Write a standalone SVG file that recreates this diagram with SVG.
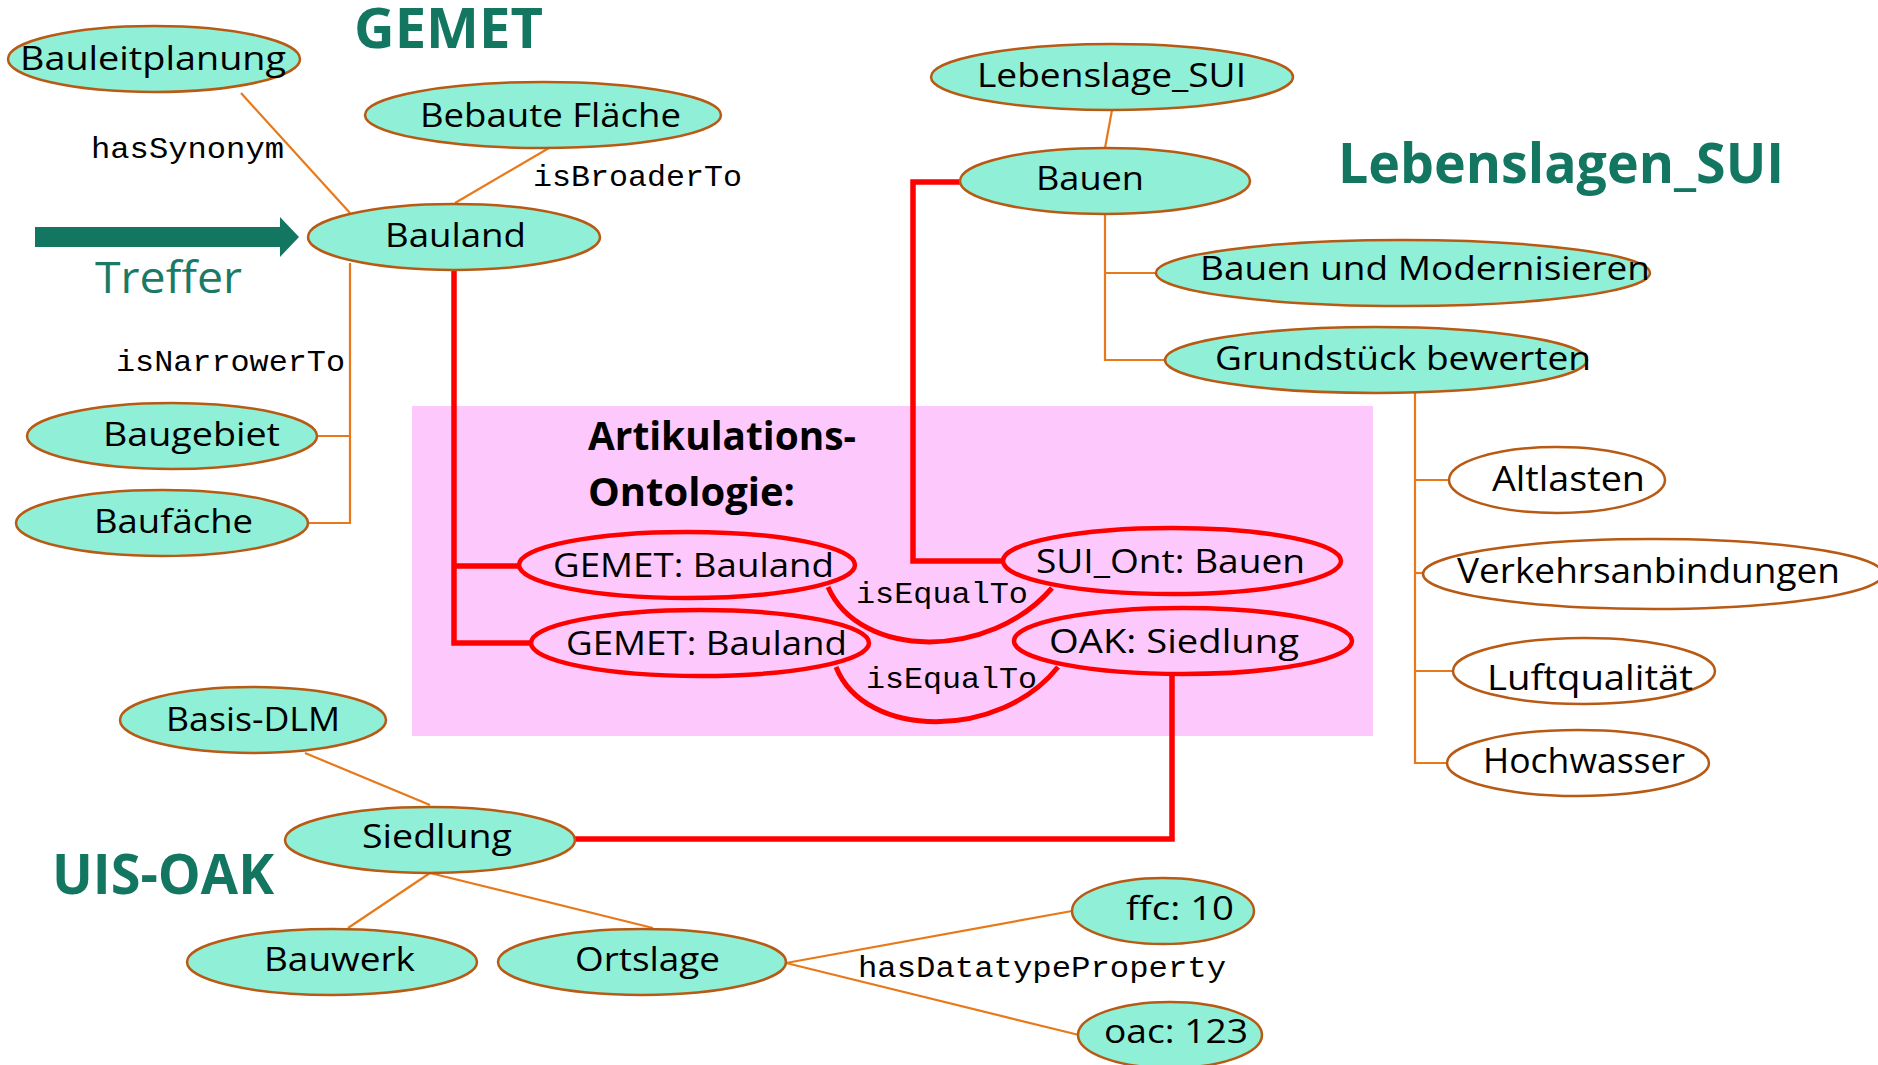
<svg xmlns="http://www.w3.org/2000/svg" width="1878" height="1065" viewBox="0 0 1878 1065">
<style>
.bg{fill:#ffffff}
.pink{fill:#FDC9FC}
.node{fill:#8FEFD7;stroke:#B85A14;stroke-width:2.5}
.wnode{fill:#ffffff;stroke:#B85A14;stroke-width:2.5}
.rnode{fill:none;stroke:#FF0000;stroke-width:4.5}
.t{font-family:"Open Sans","Noto Sans",sans-serif;font-size:33px;fill:#000}
.tw{font-family:"Open Sans","Noto Sans",sans-serif;font-size:34px;fill:#000}
.title{font-family:"Open Sans","Noto Sans",sans-serif;font-weight:bold;font-size:56px;fill:#137661}
.art{font-family:"Open Sans","Noto Sans",sans-serif;font-weight:bold;font-size:39px;fill:#000}
.mono{font-family:"Liberation Mono","Courier New",monospace;font-size:29px;fill:#000}
.oc{fill:none;stroke:#E8791A;stroke-width:2.2}
.rc{fill:none;stroke:#FF0000;stroke-width:5.5}
.rcurve{fill:none;stroke:#FF0000;stroke-width:5}
</style>
<rect class="bg" x="0" y="0" width="1878" height="1065"/>
<rect class="pink" x="412" y="406" width="961" height="330"/>

<g id="connectors">
  <line class="oc" x1="241" y1="93" x2="350" y2="213"/>
  <line class="oc" x1="549" y1="148" x2="455" y2="203"/>
  <polyline class="oc" points="350,263 350,523 307,523"/>
  <line class="oc" x1="350" y1="436" x2="317" y2="436"/>
  <line class="oc" x1="1112" y1="110" x2="1105" y2="148"/>
  <polyline class="oc" points="1105,203 1105,360 1165,360"/>
  <line class="oc" x1="1105" y1="273" x2="1157" y2="273"/>
  <polyline class="oc" points="1415,393 1415,763 1447,763"/>
  <line class="oc" x1="1415" y1="480" x2="1449" y2="480"/>
  <line class="oc" x1="1415" y1="573" x2="1423" y2="573"/>
  <line class="oc" x1="1415" y1="671" x2="1453" y2="671"/>
  <line class="oc" x1="305" y1="753" x2="430" y2="805"/>
  <line class="oc" x1="430" y1="873" x2="348" y2="928"/>
  <line class="oc" x1="430" y1="873" x2="653" y2="928"/>
  <line class="oc" x1="786" y1="963" x2="1072" y2="911"/>
  <line class="oc" x1="786" y1="963" x2="1079" y2="1035"/>
  <polyline class="rc" points="454,268 454,643 531,643"/>
  <line class="rc" x1="454" y1="566" x2="519" y2="566"/>
  <polyline class="rc" points="960,182 913,182 913,561 1003,561"/>
  <polyline class="rc" points="1172,675 1172,839 575,839"/>
  <path class="rcurve" d="M828 587 C860 660 990 660 1052 588"/>
  <path class="rcurve" d="M836 667 C865 740 1000 740 1058 667"/>
  <text class="mono" x="91" y="158" textLength="193" lengthAdjust="spacingAndGlyphs">hasSynonym</text>
  <text class="mono" x="533" y="186" textLength="209" lengthAdjust="spacingAndGlyphs">isBroaderTo</text>
  <text class="mono" x="116" y="371" textLength="229" lengthAdjust="spacingAndGlyphs">isNarrowerTo</text>
  <text class="mono" x="856" y="603" textLength="172" lengthAdjust="spacingAndGlyphs">isEqualTo</text>
  <text class="mono" x="866" y="688" textLength="171" lengthAdjust="spacingAndGlyphs">isEqualTo</text>
  <text class="mono" x="858" y="977" textLength="368" lengthAdjust="spacingAndGlyphs">hasDatatypeProperty</text>
</g>

<g id="titles">
  <text class="title" x="354" y="48" textLength="189" lengthAdjust="spacingAndGlyphs">GEMET</text>
  <text class="title" x="1338" y="183" textLength="446" lengthAdjust="spacingAndGlyphs">Lebenslagen_SUI</text>
  <text class="title" x="52" y="894" textLength="222" lengthAdjust="spacingAndGlyphs">UIS-OAK</text>
</g>

<g id="treffer">
  <polygon fill="#137661" points="35,227 280,227 280,217 299,237 280,257 280,247 35,247"/>
  <text x="95" y="293" textLength="147" lengthAdjust="spacingAndGlyphs" style="font-family:'Open Sans','Noto Sans',sans-serif;font-size:44px;fill:#1A7A64">Treffer</text>
</g>

<g id="artikulations-label">
  <text class="art" x="588" y="450" textLength="268" lengthAdjust="spacingAndGlyphs">Artikulations-</text>
  <text class="art" x="588" y="506" textLength="207" lengthAdjust="spacingAndGlyphs">Ontologie:</text>
</g>

<g id="n-bauleitplanung"><ellipse class="node" cx="154" cy="59" rx="146" ry="33"/><text class="t" x="20" y="70" textLength="266" lengthAdjust="spacingAndGlyphs">Bauleitplanung</text></g>
<g id="n-bebaute"><ellipse class="node" cx="543" cy="115" rx="178" ry="33"/><text class="t" x="420" y="127" textLength="261" lengthAdjust="spacingAndGlyphs">Bebaute Fläche</text></g>
<g id="n-bauland"><ellipse class="node" cx="454" cy="237" rx="146" ry="33"/><text class="t" x="385" y="247" textLength="141" lengthAdjust="spacingAndGlyphs">Bauland</text></g>
<g id="n-baugebiet"><ellipse class="node" cx="172" cy="436" rx="145" ry="33"/><text class="t" x="103" y="446" textLength="177" lengthAdjust="spacingAndGlyphs">Baugebiet</text></g>
<g id="n-baufaeche"><ellipse class="node" cx="162" cy="523" rx="146" ry="33"/><text class="t" x="94" y="533" textLength="159" lengthAdjust="spacingAndGlyphs">Baufäche</text></g>

<g id="n-lebenslage"><ellipse class="node" cx="1112" cy="77" rx="181" ry="33"/><text class="t" x="977" y="87" textLength="269" lengthAdjust="spacingAndGlyphs">Lebenslage_SUI</text></g>
<g id="n-bauen"><ellipse class="node" cx="1105" cy="181" rx="145" ry="33"/><text class="t" x="1036" y="190" textLength="108" lengthAdjust="spacingAndGlyphs">Bauen</text></g>
<g id="n-bauen-mod"><ellipse class="node" cx="1403" cy="273" rx="247" ry="33"/><text class="t" x="1200" y="280" textLength="450" lengthAdjust="spacingAndGlyphs">Bauen und Modernisieren</text></g>
<g id="n-grundstueck"><ellipse class="node" cx="1376" cy="360" rx="211" ry="33"/><text class="t" x="1215" y="370" textLength="376" lengthAdjust="spacingAndGlyphs">Grundstück bewerten</text></g>

<g id="n-altlasten"><ellipse class="wnode" cx="1557" cy="480" rx="108" ry="33"/><text class="tw" x="1492" y="491" textLength="153" lengthAdjust="spacingAndGlyphs">Altlasten</text></g>
<g id="n-verkehr"><ellipse class="wnode" cx="1653" cy="574" rx="230" ry="35"/><text class="tw" x="1457" y="583" textLength="383" lengthAdjust="spacingAndGlyphs">Verkehrsanbindungen</text></g>
<g id="n-luft"><ellipse class="wnode" cx="1584" cy="671" rx="131" ry="33"/><text class="tw" x="1487" y="690" textLength="206" lengthAdjust="spacingAndGlyphs">Luftqualität</text></g>
<g id="n-hochwasser"><ellipse class="wnode" cx="1578" cy="763" rx="131" ry="33"/><text class="tw" x="1483" y="773" textLength="202" lengthAdjust="spacingAndGlyphs">Hochwasser</text></g>

<g id="n-gemet-bauland-1"><ellipse class="rnode" cx="687" cy="565" rx="168" ry="33"/><text class="t" x="553" y="577" textLength="281" lengthAdjust="spacingAndGlyphs">GEMET: Bauland</text></g>
<g id="n-gemet-bauland-2"><ellipse class="rnode" cx="700" cy="643" rx="169" ry="33"/><text class="t" x="566" y="655" textLength="281" lengthAdjust="spacingAndGlyphs">GEMET: Bauland</text></g>
<g id="n-sui-bauen"><ellipse class="rnode" cx="1172" cy="561" rx="169" ry="33"/><text class="t" x="1036" y="573" textLength="269" lengthAdjust="spacingAndGlyphs">SUI_Ont: Bauen</text></g>
<g id="n-oak-siedlung"><ellipse class="rnode" cx="1183" cy="641" rx="169" ry="33"/><text class="t" x="1049" y="653" textLength="250" lengthAdjust="spacingAndGlyphs">OAK: Siedlung</text></g>

<g id="n-basis-dlm"><ellipse class="node" cx="253" cy="720" rx="133" ry="33"/><text class="t" x="166" y="731" textLength="174" lengthAdjust="spacingAndGlyphs">Basis-DLM</text></g>
<g id="n-siedlung"><ellipse class="node" cx="430" cy="840" rx="145" ry="33"/><text class="t" x="362" y="848" textLength="150" lengthAdjust="spacingAndGlyphs">Siedlung</text></g>
<g id="n-bauwerk"><ellipse class="node" cx="332" cy="962" rx="145" ry="33"/><text class="t" x="264" y="971" textLength="151" lengthAdjust="spacingAndGlyphs">Bauwerk</text></g>
<g id="n-ortslage"><ellipse class="node" cx="642" cy="962" rx="144" ry="33"/><text class="t" x="575" y="971" textLength="145" lengthAdjust="spacingAndGlyphs">Ortslage</text></g>
<g id="n-ffc"><ellipse class="node" cx="1163" cy="911" rx="91" ry="33"/><text class="t" x="1126" y="920" textLength="108" lengthAdjust="spacingAndGlyphs">ffc: 10</text></g>
<g id="n-oac"><ellipse class="node" cx="1170" cy="1035" rx="92" ry="33"/><text class="t" x="1104" y="1043" textLength="144" lengthAdjust="spacingAndGlyphs">oac: 123</text></g>
</svg>
